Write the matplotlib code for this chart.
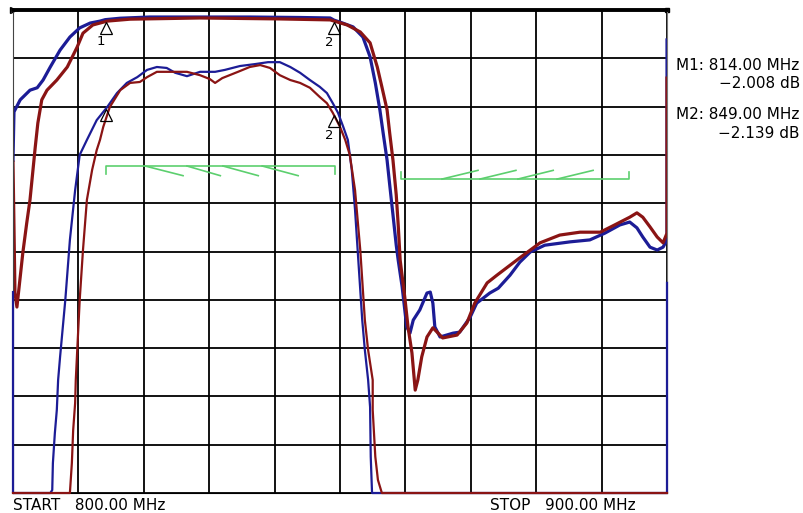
import matplotlib.pyplot as plt
import matplotlib.transforms as mtransforms
import numpy as np

# wide-span trace pair, 10 dB/div, ref 0 dB at top
wide_blue_f = [800.0, 800.15, 801.1, 802.6, 803.7, 804.6, 805.7, 807.2, 808.7, 810.2, 811.8, 813.3, 814.1,
               816.4, 820.9, 828.6, 836.2, 843.9, 848.5, 849.1, 850.0, 852.0, 853.5, 854.6, 855.4, 856.1,
               856.6, 857.2, 857.6, 858.1, 858.6, 858.9, 859.5, 860.2, 860.7, 861.2, 862.2, 863.3, 863.8,
               864.2, 864.5, 865.3, 867.3, 868.3, 869.9, 870.9, 872.9, 874.2, 876.0, 877.5, 879.1, 881.3,
               885.2, 888.2, 890.5, 892.8, 894.3, 895.4, 896.3, 897.4, 898.5, 899.4, 900.0, 900.0]
wide_blue_db = [-31.1, -21.1, -18.6, -16.6, -16.1, -14.5, -11.8, -8.3, -5.6, -3.7, -2.7, -2.3, -2.0,
                -1.7, -1.45, -1.45, -1.45, -1.55, -1.65, -2.1, -2.5, -3.5, -5.6, -9.7, -15.1, -20.7,
                -25.5, -31.1, -36.2, -42.4, -48.7, -51.8, -57.3, -65.6, -66.9, -64.2, -62.1, -58.6, -58.4,
                -60.7, -65.6, -67.7, -66.9, -66.7, -63.6, -60.7, -58.6, -57.6, -54.9, -52.2, -50.1, -48.7,
                -48.0, -47.6, -46.2, -44.5, -43.9, -45.1, -47.0, -49.1, -49.7, -49.1, -47.6, -6.2]

wide_red_f = [800.0, 800.3, 800.6, 801.1, 801.5, 802.1, 802.6, 803.1, 803.4, 803.8, 804.4, 805.2, 806.7,
              808.3, 809.8, 810.7, 812.2, 814.4, 817.9, 828.6, 840.8, 848.5, 851.1, 853.1, 854.6, 855.7,
              856.4, 857.2, 857.6, 858.1, 858.6, 858.9, 859.2, 859.9, 860.4, 861.0, 861.5, 861.9, 862.5,
              863.3, 864.2, 865.0, 865.7, 867.9, 869.4, 870.6, 872.5, 874.0, 877.5, 880.6, 883.6, 886.7,
              889.8, 892.0, 894.3, 895.4, 896.3, 897.4, 898.5, 899.4, 900.0, 900.0]
wide_red_db = [-31.5, -58.6, -61.5, -55.3, -50.3, -44.1, -39.3, -32.5, -28.4, -23.4, -18.6, -16.6, -14.5,
               -11.8, -7.7, -4.8, -3.1, -2.3, -1.9, -1.65, -1.85, -2.05, -3.1, -4.55, -6.8, -11.8,
               -15.9, -20.7, -25.5, -31.1, -38.3, -44.5, -51.8, -59.4, -65.6, -71.0, -78.7, -76.6, -71.8,
               -67.7, -65.8, -66.9, -67.9, -67.3, -64.8, -60.7, -56.5, -54.9, -51.3, -48.2, -46.6, -46.0,
               -46.0, -44.5, -42.9, -42.0, -42.9, -44.9, -47.0, -48.2, -46.2, -14.1]

# passband zoom pair, 1 dB/div, ref 0 dB at top
zoom_blue_f = [800.0, 800.0, 805.7, 806.0, 806.1, 806.4, 806.7, 806.9, 807.2, 808.0, 808.7, 809.5, 810.2,
               811.3, 812.8, 814.4, 815.9, 817.4, 819.0, 820.5, 822.0, 823.5, 824.8, 826.6, 828.6, 830.9,
               832.4, 834.7, 837.0, 839.0, 840.8, 842.4, 843.9, 845.4, 846.9, 848.0, 848.9, 849.7, 850.5,
               851.2, 851.8, 852.3, 852.8, 853.4, 853.8, 854.3, 854.6, 854.7, 854.9, 900.0, 900.0]
zoom_blue_db = [-5.84, -10.0, -10.0, -9.94, -9.38, -8.76, -8.28, -7.66, -7.18, -6.0, -4.76, -3.73, -3.0,
                -2.69, -2.28, -2.01, -1.72, -1.51, -1.39, -1.24, -1.18, -1.20, -1.30, -1.37, -1.28, -1.28,
                -1.24, -1.16, -1.12, -1.08, -1.08, -1.18, -1.30, -1.45, -1.59, -1.72, -1.93, -2.13, -2.42,
                -2.69, -3.31, -4.14, -5.18, -6.42, -7.04, -7.66, -8.22, -9.25, -10.0, -10.0, -5.65]

zoom_red_f = [800.0, 808.7, 809.0, 809.2, 809.5, 809.6, 809.9, 810.2, 810.7, 811.3, 812.1, 812.8, 813.3,
              813.8, 814.8, 816.4, 817.9, 819.4, 820.5, 822.0, 824.5, 826.6, 828.6, 830.1, 830.9, 832.0,
              834.4, 836.2, 837.8, 839.3, 840.8, 842.4, 843.9, 845.4, 846.9, 848.0, 848.9, 850.0, 850.8,
              851.5, 852.3, 853.1, 853.8, 854.3, 855.0, 855.0, 855.4, 855.8, 856.4, 900.0]
zoom_red_db = [-10.0, -10.0, -9.38, -8.70, -8.14, -7.66, -6.83, -6.0, -4.97, -3.93, -3.31, -2.90, -2.69,
               -2.42, -2.01, -1.66, -1.51, -1.49, -1.39, -1.28, -1.28, -1.28, -1.35, -1.43, -1.51, -1.41,
               -1.28, -1.18, -1.14, -1.20, -1.35, -1.45, -1.51, -1.61, -1.80, -1.93, -2.13, -2.42, -2.69,
               -3.0, -3.73, -4.97, -6.42, -7.04, -7.66, -8.28, -9.25, -9.73, -10.0, -10.0]

# limit lines (wide scale)
pass_limit_f = [814.2, 849.2]
pass_limit_db = -32.3
pass_tick_db = -34.0
pass_hatch_f = [(820.2, 826.0), (826.6, 831.7), (832.1, 837.5), (838.1, 843.6)]
stop_limit_f = [859.3, 894.2]
stop_limit_db = -35.0
stop_tick_db = -33.5
stop_hatch_f = [(865.6, 871.1), (871.4, 876.9), (877.2, 882.6), (883.2, 888.7)]

marker_f = [814.0, 849.0]
marker_db = [-2.008, -2.139]
marker_names = ['1', '2']

BLUE = '#1c1c96'
RED = '#8a1414'
GREEN = '#5ccf6e'

fig = plt.figure(figsize=(8.04, 5.13), dpi=100)
ax = fig.add_axes([13 / 804, 1 - 493 / 513, 654 / 804, 483 / 513])
ax.set_xlim(800, 900)
ax.set_ylim(-100, 0)
ax.set_xticks(np.linspace(800, 900, 11))
ax.set_yticks(np.linspace(-100, 0, 11))
ax.grid(True, color='black', linewidth=1.3)
ax.tick_params(length=0, labelbottom=False, labelleft=False)
ax.spines['top'].set_linewidth(2.8)
ax.spines['left'].set_color('#444444')
ax.spines['right'].set_color('#777777')
ax.spines['bottom'].set_color('black')

# small end marks on the top border
ax.plot([800], [0], marker='>', ms=5, mfc='white', mec='black', mew=1.0, clip_on=False)
ax.plot([900], [0], marker='s', ms=3.5, mfc='white', mec='black', mew=1.0, clip_on=False)

ax2 = ax.twinx()
ax2.set_ylim(-10, 0)
ax2.set_axis_off()

ax2.plot(zoom_blue_f, zoom_blue_db, color=BLUE, lw=1.6, clip_on=False)
ax.plot(wide_blue_f, wide_blue_db, color=BLUE, lw=2.3)
ax2.plot(zoom_red_f, zoom_red_db, color=RED, lw=1.6, clip_on=False)
ax.plot(wide_red_f, wide_red_db, color=RED, lw=2.3)

# limit lines
ax.plot([pass_limit_f[0], pass_limit_f[0], pass_limit_f[1], pass_limit_f[1]],
        [pass_tick_db, pass_limit_db, pass_limit_db, pass_tick_db], color=GREEN, lw=1.2)
for f0, f1 in pass_hatch_f:
    ax.plot([f0, f1], [pass_limit_db, pass_tick_db - 0.3], color=GREEN, lw=1.2)
ax.plot([stop_limit_f[0], stop_limit_f[0], stop_limit_f[1], stop_limit_f[1]],
        [stop_tick_db, stop_limit_db, stop_limit_db, stop_tick_db], color=GREEN, lw=1.2)
for f0, f1 in stop_hatch_f:
    ax.plot([f0, f1], [stop_limit_db, stop_tick_db + 0.3], color=GREEN, lw=1.2)

# markers on both scales
for axis, labels in ((ax, [True, True]), (ax2, [False, True])):
    for f, db, name, show in zip(marker_f, marker_db, marker_names, labels):
        tri = mtransforms.offset_copy(axis.transData, fig=fig, x=1, y=-8, units='dots')
        axis.plot(f, db, marker='^', ms=8, mfc='none', mec='black', mew=0.9,
                  transform=tri, clip_on=False)
        if show:
            lab = mtransforms.offset_copy(axis.transData, fig=fig, x=-4, y=-22, units='dots')
            axis.text(f, db, name, transform=lab, ha='center', va='center',
                      fontsize=9.5, color='black')

txt = dict(fontsize=11, family='DejaVu Sans', color='black')
fig.text(676 / 804, 1 - 66 / 513, 'M1: 814.00 MHz', ha='left', va='center', **txt)
fig.text(800 / 804, 1 - 84 / 513, '\u22122.008 dB', ha='right', va='center', **txt)
fig.text(676 / 804, 1 - 115 / 513, 'M2: 849.00 MHz', ha='left', va='center', **txt)
fig.text(800 / 804, 1 - 134 / 513, '\u22122.139 dB', ha='right', va='center', **txt)
fig.text(13 / 804, 1 - 505 / 513, 'START   800.00 MHz', ha='left', va='center', **txt)
fig.text(490 / 804, 1 - 505 / 513, 'STOP   900.00 MHz', ha='left', va='center', **txt)

fig.savefig('out.png', dpi=100)
